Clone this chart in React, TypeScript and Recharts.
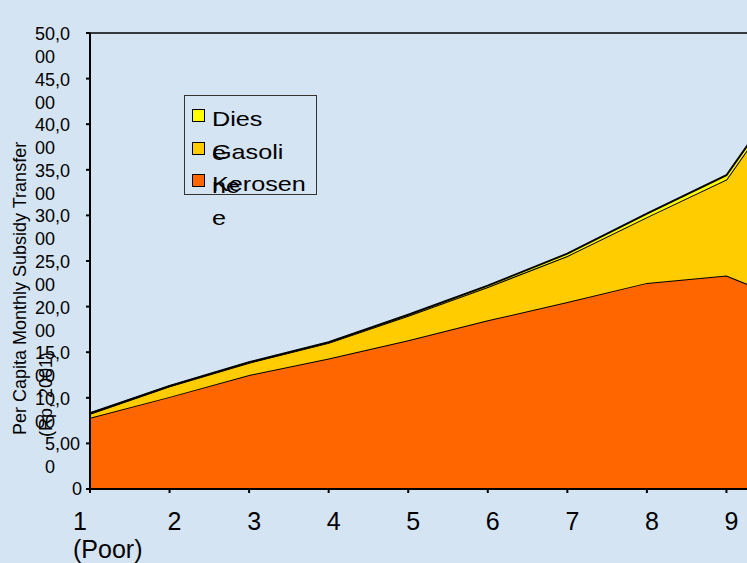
import { AreaChart, Area, XAxis, YAxis, Legend, ReferenceLine } from 'recharts';

const deciles = ['1', '2', '3', '4', '5', '6', '7', '8', '9', '10'];
const kerosene = [7800, 10100, 12500, 14300, 16300, 18500, 20500, 22600, 23400, 19900];
const gasoline = [450, 1150, 1350, 1720, 2700, 3650, 5050, 7200, 10550, 26450];
const diesel = [50, 50, 60, 80, 100, 150, 250, 400, 450, 450];
const yTicks = [0, 5000, 10000, 15000, 20000, 25000, 30000, 35000, 40000, 45000, 50000];

const chartData = deciles.map((d, i) => ({
  decile: d,
  kerosene: kerosene[i],
  gasoline: gasoline[i],
  diesel: diesel[i],
}));

const FONT = '"Liberation Sans", Arial, sans-serif';

function YTick(props: any) {
  const { x, y, payload } = props;
  const s = Number(payload.value).toLocaleString('en-US');
  if (s.length <= 4) {
    return (
      <text x={x - 4} y={y + 6} textAnchor="end" fontSize={18} fontFamily={FONT} fill="#000">
        {s}
      </text>
    );
  }
  // estimated width of the full label, Excel right-aligns it then wraps
  const w = s.replace(/,/g, '').length * 10.01 + 5;
  const left = x + 4 - w;
  return (
    <text fontSize={18} fontFamily={FONT} fill="#000">
      <tspan x={left} y={y + 7}>{s.slice(0, 4)}</tspan>
      <tspan x={left} y={y + 30}>{s.slice(4)}</tspan>
    </text>
  );
}

function XTick(props: any) {
  const { x, y, payload } = props;
  if (payload.value === '1') {
    return (
      <text fontSize={25} fontFamily={FONT} fill="#000">
        <tspan x={x - 17} y={y + 37}>1</tspan>
        <tspan x={x - 17} y={y + 65}>(Poor)</tspan>
      </text>
    );
  }
  return (
    <text x={x + 5} y={y + 37} textAnchor="middle" fontSize={25} fontFamily={FONT} fill="#000">
      {payload.value}
    </text>
  );
}

const legendItems = [
  { text: 'Dies\ne', color: '#ffff00' },
  { text: 'Gasoli\nne', color: '#ffcc00' },
  { text: 'Kerosen\ne', color: '#ff6600' },
];

function LegendBox() {
  return (
    <div style={{ position: 'relative', width: 133, height: 100, border: '1px solid #333', boxSizing: 'border-box' }}>
      {legendItems.map((it, i) => {
        const top = 6 + i * 32.7;
        return (
          <div key={it.text}>
            <div
              style={{
                position: 'absolute',
                left: 7,
                top: top + 7,
                width: 13,
                height: 13,
                background: it.color,
                border: '1.5px solid #000',
                boxSizing: 'border-box',
              }}
            />
            <div
              style={{
                position: 'absolute',
                left: 27,
                top: top,
                whiteSpace: 'pre',
                fontFamily: FONT,
                fontSize: 21,
                lineHeight: '34px',
                color: '#000',
                transform: 'scaleX(1.2)',
                transformOrigin: 'left top',
              }}
            >
              {it.text}
            </div>
          </div>
        );
      })}
    </div>
  );
}

function AxisTitle() {
  return (
    <g>
      <text x={26} y={435} transform="rotate(-90, 26, 435)" fontSize={18} fontFamily={FONT} fill="#000">
        Per Capita Monthly Subsidy Transfer
      </text>
      <text x={52} y={437} transform="rotate(-90, 52, 437)" fontSize={18} fontFamily={FONT} fill="#000">
        (Rp, 2001)
      </text>
    </g>
  );
}

export default function App() {
  return (
    <div
      style={{
        position: 'fixed',
        left: 0,
        top: 0,
        width: 747,
        height: 563,
        overflow: 'hidden',
        background: '#d5e4f3',
      }}
    >
      <AreaChart width={806} height={563} data={chartData} margin={{ top: 33, right: 0, left: 0, bottom: 0 }}>
        <XAxis
          dataKey="decile"
          height={74}
          padding={{ left: 0, right: 0 }}
          stroke="#000"
          strokeWidth={2}
          tickSize={4}
          tickMargin={0}
          tick={<XTick />}
          interval={0}
        />
        <YAxis
          width={90}
          domain={[0, 50000]}
          ticks={yTicks}
          stroke="#000"
          strokeWidth={2}
          tickSize={4}
          tickMargin={0}
          tick={<YTick />}
          interval={0}
          label={<AxisTitle />}
        />
        <ReferenceLine y={50000} stroke="#000" strokeWidth={1.5} ifOverflow="visible" />
        <Area
          type="linear"
          dataKey="kerosene"
          stackId="1"
          fill="#ff6600"
          fillOpacity={1}
          stroke="#000"
          strokeWidth={2}
          isAnimationActive={false}
          name="Kerosene"
        />
        <Area
          type="linear"
          dataKey="gasoline"
          stackId="1"
          fill="#ffcc00"
          fillOpacity={1}
          stroke="#000"
          strokeWidth={2}
          isAnimationActive={false}
          name="Gasoline"
        />
        <Area
          type="linear"
          dataKey="diesel"
          stackId="1"
          fill="#ffff00"
          fillOpacity={1}
          stroke="#000"
          strokeWidth={2}
          isAnimationActive={false}
          name="Diesel"
        />
        <Legend
          layout="vertical"
          align="center"
          verticalAlign="middle"
          content={() => <LegendBox />}
          wrapperStyle={{ left: 184, top: 95, width: 133, height: 100 }}
        />
      </AreaChart>
    </div>
  );
}
